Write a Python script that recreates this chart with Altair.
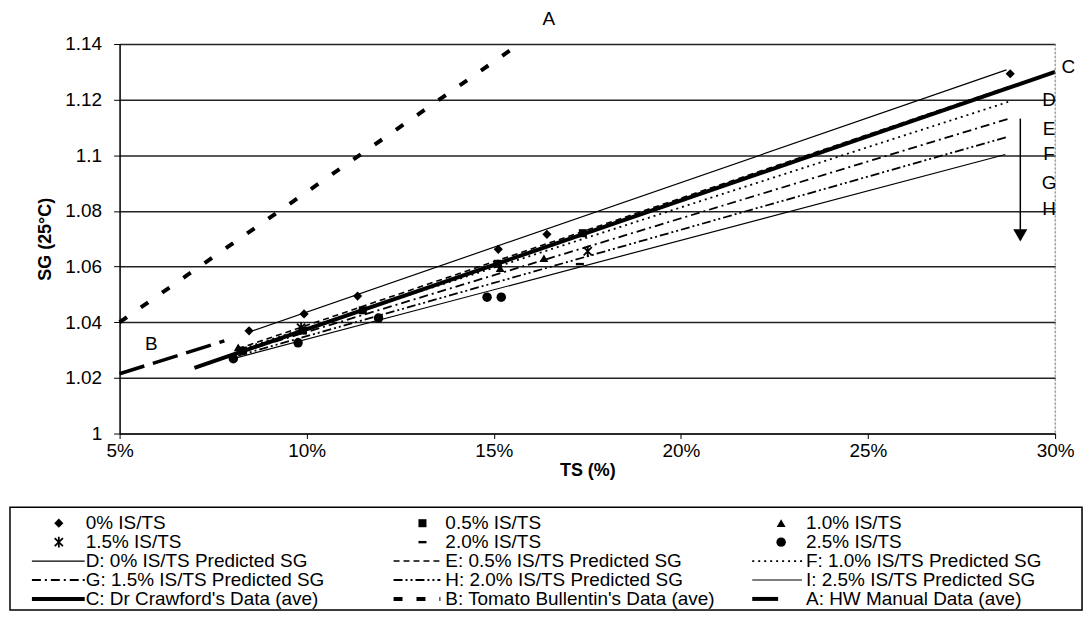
import altair as alt
import pandas as pd

FONT = "Liberation Sans"

# ---------------- data ----------------
# measured SG points for each IS/TS level: TS (%) and SG (25 C)
ts_is0 = [8.46, 9.93, 11.36, 15.12, 16.42, 28.80]
sg_is0 = [1.0369, 1.0430, 1.0494, 1.0662, 1.0716, 1.1293]
ts_is05 = [8.30, 9.90, 11.50, 15.10, 17.38]
sg_is05 = [1.0298, 1.0370, 1.0443, 1.0610, 1.0720]
ts_is10 = [8.17, 15.17, 16.34]
sg_is10 = [1.0310, 1.0594, 1.0630]
ts_is15 = [9.85, 17.51]
sg_is15 = [1.0380, 1.0655]
ts_is20 = [17.30]
sg_is20 = [1.0609]
ts_is25 = [8.04, 9.77, 11.92, 14.82, 15.20]
sg_is25 = [1.0269, 1.0326, 1.0415, 1.0490, 1.0490]

point_series = ["0% IS/TS", "0.5%  IS/TS", "1.0% IS/TS",
                "1.5% IS/TS", "2.0% IS/TS", "2.5% IS/TS"]
point_ts = [ts_is0, ts_is05, ts_is10, ts_is15, ts_is20, ts_is25]
point_sg = [sg_is0, sg_is05, sg_is10, sg_is15, sg_is20, sg_is25]

# predicted / reference lines: start and end points (TS %, SG)
line_series = ["D: 0% IS/TS Predicted SG", "E: 0.5%  IS/TS Predicted SG",
               "F: 1.0% IS/TS Predicted SG", "G: 1.5% IS/TS Predicted SG",
               "H: 2.0% IS/TS Predicted SG", "I: 2.5% IS/TS Predicted SG",
               "C: Dr Crawford's Data (ave)", "B: Tomato Bullentin's Data (ave)",
               "A: HW Manual Data (ave)"]
line_ts0 = [8.46, 8.17, 8.17, 8.17, 8.17, 8.04, 7.00, 5.00, 5.00]
line_sg0 = [1.0365, 1.0305, 1.0300, 1.0290, 1.0280, 1.0269, 1.0236, 1.0215, 1.0400]
line_ts1 = [28.70, 28.75, 28.75, 28.75, 28.75, 28.67, 30.00, 7.80, 15.68]
line_sg1 = [1.1307, 1.1246, 1.1192, 1.1131, 1.1067, 1.1003, 1.1300, 1.0333, 1.1400]

# curve letters
letter_text = ["A", "B", "C", "D", "E", "F", "G", "H"]
letter_ts = [16.47, 5.85, 30.35, 29.84, 29.84, 29.84, 29.84, 29.84]
letter_sg = [1.1490, 1.0322, 1.1318, 1.1200, 1.1096, 1.1006, 1.0899, 1.0806]

# downward arrow (increasing IS/TS)
arrow_ts = [29.07]
arrow_sg_top = [1.1132]
arrow_sg_tip = [1.0712]

x_ticks = [5, 10, 15, 20, 25, 30]
y_ticks = [1.0, 1.02, 1.04, 1.06, 1.08, 1.10, 1.12, 1.14]

# legend layout: 5 rows x 3 columns
legend_items = [point_series[0], point_series[1], point_series[2],
                point_series[3], point_series[4], point_series[5],
                line_series[0], line_series[1], line_series[2],
                line_series[3], line_series[4], line_series[5],
                line_series[6], line_series[7], line_series[8]]

# ---------------- styles ----------------
ASTER = "M-0.75,-0.75L0.75,0.75M-0.75,0.75L0.75,-0.75M0,-1L0,1"
DASHM = "M-1,-0.3L1,-0.3L1,0.3L-1,0.3Z"
point_style = {
    point_series[0]: dict(shape="diamond", size=85, filled=True, strokeWidth=0),
    point_series[1]: dict(shape="square", size=65, filled=True, strokeWidth=0),
    point_series[2]: dict(shape="triangle-up", size=80, filled=True, strokeWidth=0),
    point_series[3]: dict(shape=ASTER, size=120, filled=False, strokeWidth=1.8),
    point_series[4]: dict(shape=DASHM, size=65, filled=True, strokeWidth=0),
    point_series[5]: dict(shape="circle", size=90, filled=True, strokeWidth=0),
}
line_style = {
    line_series[0]: dict(strokeWidth=1.2),
    line_series[1]: dict(strokeWidth=1.6, strokeDash=[6, 4]),
    line_series[2]: dict(strokeWidth=1.8, strokeDash=[2, 4]),
    line_series[3]: dict(strokeWidth=1.8, strokeDash=[9, 4, 2, 4]),
    line_series[4]: dict(strokeWidth=1.8, strokeDash=[9, 3, 2, 3, 2, 3]),
    line_series[5]: dict(strokeWidth=1.2),
    line_series[6]: dict(strokeWidth=4),
    line_series[7]: dict(strokeWidth=3.5, strokeDash=[26, 9]),
    line_series[8]: dict(strokeWidth=4, strokeDash=[9, 17]),
}
legend_line_style = dict(line_style)
legend_line_style[line_series[7]] = dict(strokeWidth=4, strokeDash=[9, 14])
legend_line_style[line_series[8]] = dict(strokeWidth=4, strokeDash=[26, 40])

# ---------------- tables ----------------
pts_df = pd.concat([pd.DataFrame({"series": s, "ts": t, "sg": g})
                    for s, t, g in zip(point_series, point_ts, point_sg)],
                   ignore_index=True)
lines_df = pd.DataFrame({"series": line_series * 2,
                         "ts": line_ts0 + line_ts1,
                         "sg": line_sg0 + line_sg1})
letters_df = pd.DataFrame({"label": letter_text, "ts": letter_ts, "sg": letter_sg})
arrow_df = pd.DataFrame({"ts": arrow_ts, "sg": arrow_sg_top, "sg2": arrow_sg_tip})

xs = alt.Scale(domain=[5, 30], nice=False, zero=False)
ys = alt.Scale(domain=[1.0, 1.14], nice=False, zero=False)
x_axis = alt.Axis(values=x_ticks, labelExpr="datum.value + '%'", grid=False,
                  labelFlush=False, labelOverlap=False,
                  domainColor="black", tickColor="black", tickSize=5,
                  labelFont=FONT, labelFontSize=19, labelColor="black", labelPadding=3,
                  titleFont=FONT, titleFontSize=18, titleFontWeight="bold",
                  titleColor="black", titlePadding=1)
y_axis = alt.Axis(values=y_ticks, format=".3~g", grid=True, gridColor="#222",
                  gridWidth=1.5, domainColor="black", domainWidth=1.5,
                  tickColor="black", tickSize=6, labelFlush=False, labelOverlap=False,
                  labelFont=FONT, labelFontSize=19, labelColor="black", labelPadding=12,
                  titleFont=FONT, titleFontSize=18, titleFontWeight="bold",
                  titleColor="black", titlePadding=10)
X = alt.X("ts:Q", scale=xs, axis=x_axis, title="TS (%)")
Y = alt.Y("sg:Q", scale=ys, axis=y_axis, title="SG (25°C)")

layers = []
for name in line_series:
    layers.append(
        alt.Chart(lines_df).transform_filter(alt.datum.series == name)
        .mark_line(color="black", **line_style[name]).encode(x=X, y=Y)
    )
for name in point_series:
    st = point_style[name]
    layers.append(
        alt.Chart(pts_df).transform_filter(alt.datum.series == name)
        .mark_point(color="black", opacity=1, **st).encode(x=X, y=Y)
    )
border = alt.Chart(pd.DataFrame({"ts": [30]})).mark_rule(
    color="#777", strokeDash=[2, 2], strokeWidth=1).encode(x=X)
arrow_line = alt.Chart(arrow_df).mark_rule(color="black", strokeWidth=1.5).encode(
    x=X, y=Y, y2="sg2:Q")
arrow_head = alt.Chart(arrow_df).mark_point(
    shape="triangle-down", size=200, filled=True, color="black", opacity=1
).encode(x=X, y=alt.Y("sg2:Q", scale=ys))
letters = alt.Chart(letters_df).mark_text(
    font=FONT, fontSize=19, color="black", align="center", baseline="middle"
).encode(x=X, y=Y, text="label:N")

main = alt.layer(*layers, border, arrow_line, arrow_head, letters).properties(
    width=939, height=391)

# ---------------- legend panel ----------------
# legend coordinates are measured from the plot's left edge (the panels share it)
LX0, LX1, LH = -110, 966, 103
col_sym = [-61, 304, 664]
col_l0 = [-88, 275, 635]
col_l1 = [-35, 322, 685]
col_txt = [-34, 327, 689]
row_y = [16, 35, 54, 73, 92]

leg_rows = []
for i, name in enumerate(legend_items):
    r, c = divmod(i, 3)
    leg_rows.append({"name": name, "sx": col_sym[c], "lx0": col_l0[c], "lx1": col_l1[c],
                     "tx": col_txt[c], "ly": row_y[r]})
leg_df = pd.DataFrame(leg_rows)
lxs = alt.Scale(domain=[0, LX1], nice=False, zero=False)
lys = alt.Scale(domain=[0, LH], nice=False, zero=False, reverse=True)

box = alt.Chart(pd.DataFrame({"a": [0]})).mark_rect(
    fill="white", stroke="black", strokeWidth=1.5
).encode(x=alt.datum(LX0, scale=lxs, axis=None), x2=alt.datum(LX1),
         y=alt.datum(0, scale=lys, axis=None), y2=alt.datum(LH))
leg_layers = [box]
for name in point_series:
    leg_layers.append(
        alt.Chart(leg_df).transform_filter(alt.datum.name == name)
        .mark_point(color="black", opacity=1, **point_style[name])
        .encode(x=alt.X("sx:Q", scale=lxs, axis=None), y=alt.Y("ly:Q", scale=lys, axis=None))
    )
for name in line_series:
    leg_layers.append(
        alt.Chart(leg_df).transform_filter(alt.datum.name == name)
        .mark_rule(color="black", **legend_line_style[name])
        .encode(x=alt.X("lx0:Q", scale=lxs, axis=None), x2="lx1:Q",
                y=alt.Y("ly:Q", scale=lys, axis=None))
    )
leg_text = alt.Chart(leg_df).mark_text(
    font=FONT, fontSize=19, color="black", align="left", baseline="middle"
).encode(x=alt.X("tx:Q", scale=lxs, axis=None), y=alt.Y("ly:Q", scale=lys, axis=None),
         text="name:N")
legend = alt.layer(*leg_layers, leg_text).properties(width=LX1, height=LH)

chart = alt.vconcat(main, legend, spacing=25).properties(
    padding={"left": 0, "top": 0, "right": 0, "bottom": 0}
).configure_view(stroke="transparent").configure(font=FONT)

chart.save("out.html", embed_options={"renderer": "svg", "actions": False})
